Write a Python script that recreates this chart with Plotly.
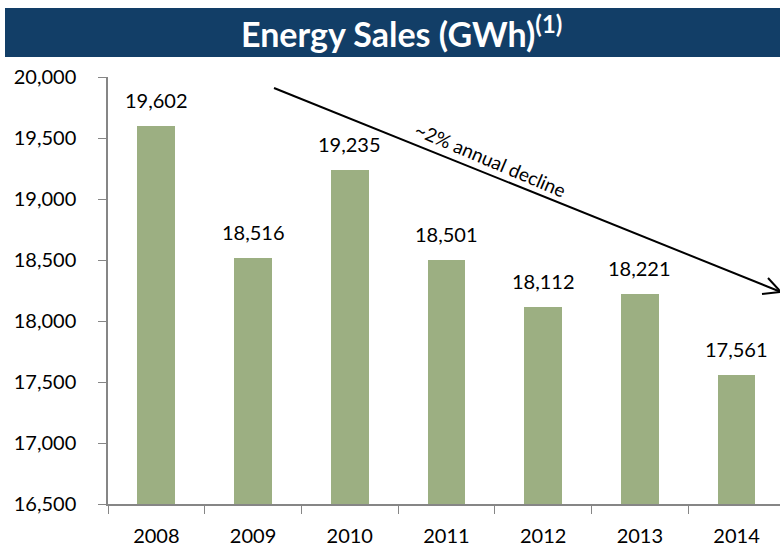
import plotly.graph_objects as go

# Energy sales by year (GWh)
years = ["2008", "2009", "2010", "2011", "2012", "2013", "2014"]
sales = [19602, 18516, 19235, 18501, 18112, 18221, 17561]
y_ticks = [16500, 17000, 17500, 18000, 18500, 19000, 19500, 20000]

FONT = "Lato"
BAR_COLOR = "#9caf82"
NAVY = "#123e67"

# plot area geometry in pixels (used to place the title band and the trend arrow)
L, R, T, B = 108, 780, 77, 504
W, H = R - L, B - T


def px(x):
    return (x - L) / W


def py(y):
    return (B - y) / H


fig = go.Figure(go.Bar(
    x=years, y=sales, width=0.39,
    marker=dict(color=BAR_COLOR, line=dict(width=0)),
    hoverinfo="x+y",
))

# value labels above bars (category axis -> use serial index)
for i, v in enumerate(sales):
    fig.add_annotation(x=i, y=v, text=f"{v:,}", showarrow=False,
                       yanchor="bottom", yshift=12,
                       font=dict(family=FONT, size=20, color="#000000"))

# title band
fig.add_shape(type="rect", xref="paper", yref="paper",
              x0=px(5), x1=px(781), y0=py(57), y1=py(8),
              fillcolor=NAVY, line=dict(width=0), layer="below")
fig.add_annotation(xref="paper", yref="paper", x=px(401), y=py(32),
                   xanchor="center", yanchor="middle",
                   text="<b>Energy Sales (GWh)<sup>(1)</sup></b>", showarrow=False,
                   font=dict(family=FONT, size=34, color="white"))

# trend arrow
ax0, ay0, ax1, ay1 = 274, 88, 781, 292
arrow = dict(type="line", xref="paper", yref="paper", line=dict(color="black", width=2))
fig.add_shape(x0=px(ax0), y0=py(ay0), x1=px(ax1), y1=py(ay1), **arrow)
fig.add_shape(x0=px(768), y0=py(278), x1=px(ax1), y1=py(ay1), **arrow)
fig.add_shape(x0=px(762), y0=py(294), x1=px(ax1), y1=py(ay1), **arrow)
fig.add_annotation(xref="paper", yref="paper", x=px(491), y=py(159),
                   xanchor="center", yanchor="middle",
                   text="~2% annual decline", showarrow=False, textangle=23,
                   font=dict(family=FONT, size=19, color="#000000"))

axis_col = "#868686"
fig.update_xaxes(
    type="category",
    range=[-0.5, W / 96.7 - 0.5], showgrid=False,
    showline=True, linecolor=axis_col, linewidth=1.5,
    ticks="outside", tickson="boundaries", ticklen=8, tickcolor=axis_col,
    ticklabelstandoff=13,
    tickfont=dict(family=FONT, size=20, color="#000000"),
)
fig.update_yaxes(
    range=[16500, 20000], tickvals=y_ticks, tickformat=",",
    showgrid=False, zeroline=False,
    showline=True, linecolor=axis_col, linewidth=1.5,
    ticks="outside", ticklen=8, tickcolor=axis_col,
    ticklabelstandoff=18,
    tickfont=dict(family=FONT, size=20, color="#000000"),
)
fig.update_layout(
    width=780, height=546,
    margin=dict(l=L, r=0, t=T, b=546 - B),
    plot_bgcolor="white", paper_bgcolor="white",
    showlegend=False, bargap=0,
)

fig.write_html("out.html", config={"displayModeBar": False},
               post_script="document.body.style.margin='0';")
